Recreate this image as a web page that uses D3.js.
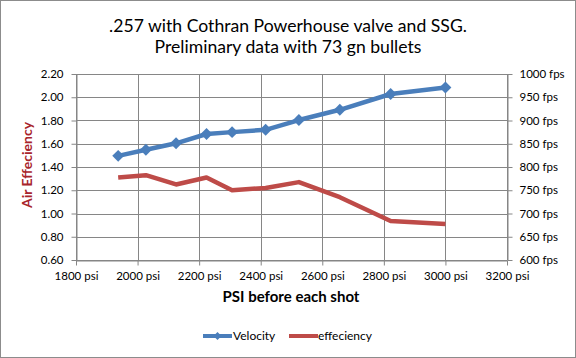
<!DOCTYPE html>
<html><head><meta charset="utf-8">
<script src="https://cdn.jsdelivr.net/npm/d3@7"></script>
<style>body{margin:0;background:#fff}svg{display:block}text{font-family:Lato,"Open Sans",sans-serif}</style>
</head><body><svg id="c" width="576" height="358"></svg>
<script>
const psi = [1937, 2027, 2125, 2224, 2307, 2416, 2524, 2657, 2822, 3000];
const velocity = [824, 837, 851, 871, 875, 880, 901, 923, 957, 971];
const efficiency = [1.31, 1.33, 1.25, 1.31, 1.20, 1.22, 1.27, 1.14, 0.935, 0.91];
const xTicks = [1800, 2000, 2200, 2400, 2600, 2800, 3000, 3200];
const yLeftTicks = [0.6, 0.8, 1.0, 1.2, 1.4, 1.6, 1.8, 2.0, 2.2];
const yRightTicks = [600, 650, 700, 750, 800, 850, 900, 950, 1000];
const titleLines = [".257 with Cothran Powerhouse valve and SSG.", "Preliminary data with 73 gn bullets"];

const svg = d3.select("#c");
const L = 76, R = 507, T = 74, B = 260;
const x = d3.scaleLinear().domain([1800, 3200]).range([L, R]);
const yL = d3.scaleLinear().domain([0.6, 2.2]).range([B, T]);
const yR = d3.scaleLinear().domain([600, 1000]).range([B, T]);
const grid = "#868686";

svg.append("rect").attr("x",0.5).attr("y",0.5).attr("width",575).attr("height",357).attr("fill","#fff").attr("stroke","#8c8c8c");

// grid
svg.append("g").selectAll("line").data(yLeftTicks).join("line")
  .attr("x1",L).attr("x2",R).attr("y1",d=>Math.round(yL(d))+0.5).attr("y2",d=>Math.round(yL(d))+0.5)
  .attr("stroke",grid).attr("stroke-width",1);
svg.append("g").selectAll("line").data(xTicks).join("line")
  .attr("x1",d=>Math.round(x(d))+0.5).attr("x2",d=>Math.round(x(d))+0.5).attr("y1",T).attr("y2",B)
  .attr("stroke",grid).attr("stroke-width",1);

function styleAxis(g){
  g.select(".domain").attr("stroke",grid);
  g.selectAll(".tick line").attr("stroke",grid);
  g.selectAll("text").attr("font-size",11.5).attr("fill","#000").style("font-family","Lato,'Open Sans',sans-serif");
}
svg.append("g").attr("transform",`translate(0,${B+0.5})`)
  .call(d3.axisBottom(x).tickValues(xTicks).tickFormat(d=>d+" psi").tickSize(5).tickSizeOuter(0).tickPadding(6))
  .call(styleAxis);
svg.append("g").attr("transform",`translate(${L+0.5},0)`)
  .call(d3.axisLeft(yL).tickValues(yLeftTicks).tickFormat(d3.format(".2f")).tickSize(5).tickSizeOuter(0).tickPadding(8))
  .call(styleAxis);
svg.append("g").attr("transform",`translate(${R+0.5},0)`)
  .call(d3.axisRight(yR).tickValues(yRightTicks).tickFormat(d=>d+" fps").tickSize(5).tickSizeOuter(0).tickPadding(7))
  .call(styleAxis);

// title
svg.append("g").selectAll("text").data(titleLines).join("text")
  .attr("x",288).attr("y",(d,i)=>32+i*21).attr("text-anchor","middle").attr("font-size",17.6).attr("fill","#000").text(d=>d);

svg.append("text").attr("transform","translate(32,165) rotate(-90)").attr("text-anchor","middle")
  .attr("font-size",14).attr("font-weight","bold").attr("fill","#A8242B").text("Air Effeciency");
svg.append("text").attr("x",291).attr("y",302).attr("text-anchor","middle")
  .attr("font-size",15).attr("font-weight","bold").attr("fill","#000").text("PSI before each shot");

const blue = "#4A7EBB", red = "#BE4B48";
const effLine = d3.line().x((d,i)=>x(psi[i])).y(d=>yL(d));
svg.append("path").datum(efficiency).attr("d",effLine).attr("fill","none").attr("stroke",red).attr("stroke-width",4.5).attr("stroke-linejoin","round");
const velLine = d3.line().x((d,i)=>x(psi[i])).y(d=>yR(d));
svg.append("path").datum(velocity).attr("d",velLine).attr("fill","none").attr("stroke",blue).attr("stroke-width",4.5).attr("stroke-linejoin","round");
const diamond = d3.symbol().type(d3.symbolDiamond2).size(90);
svg.append("g").selectAll("path").data(velocity).join("path")
  .attr("transform",(d,i)=>`translate(${x(psi[i])},${yR(d)})`).attr("d",diamond).attr("fill",blue);

// legend
const lg = svg.append("g");
lg.append("line").attr("x1",203).attr("x2",232).attr("y1",336).attr("y2",336).attr("stroke",blue).attr("stroke-width",4);
lg.append("path").attr("transform","translate(217.5,336)").attr("d",d3.symbol().type(d3.symbolDiamond2).size(40)).attr("fill",blue);
lg.append("text").attr("x",233).attr("y",340).attr("font-size",12).text("Velocity");
lg.append("line").attr("x1",289).attr("x2",318).attr("y1",336).attr("y2",336).attr("stroke",red).attr("stroke-width",4);
lg.append("text").attr("x",318).attr("y",340).attr("font-size",12).text("effeciency");
</script></body></html>
